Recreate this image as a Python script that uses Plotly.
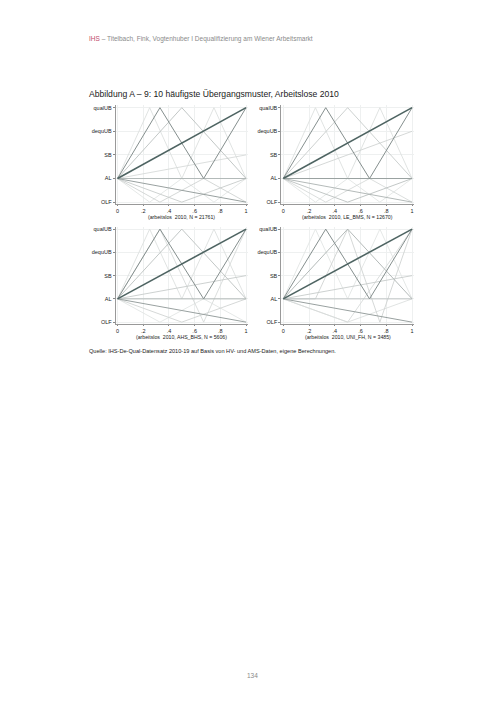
import plotly.graph_objects as go

# ---------------- data ----------------
state_labels = ["OLF", "AL", "SB", "dequUB", "qualUB"]
x_tick_vals = [0, 0.2, 0.4, 0.6, 0.8, 1]
x_tick_text = ["0", ".2", ".4", ".6", ".8", "1"]

panel_titles = [
    "(arbeitslos  2010, N = 21761)",
    "(arbeitslos  2010, LE_BMS, N = 12670)",
    "(arbeitslos  2010, AHS_BHS, N = 5606)",
    "(arbeitslos  2010, UNI_FH, N = 3485)",
]

# each pattern: (sequence of states, relative time positions, estimated share %)
p1_states = [["AL", "qualUB"], ["AL", "qualUB", "AL", "qualUB"], ["AL", "OLF"], ["AL", "AL"],
             ["AL", "qualUB", "AL"], ["AL", "OLF", "AL"], ["AL", "OLF", "AL", "OLF"], ["AL", "SB"],
             ["AL", "qualUB", "AL", "qualUB", "AL"], ["AL", "OLF", "AL", "OLF", "AL"]]
p1_times = [[0, 1], [0, 0.33, 0.67, 1], [0, 1], [0, 1], [0, 0.5, 1], [0, 0.5, 1], [0, 0.33, 0.67, 1],
            [0, 1], [0, 0.25, 0.5, 0.75, 1], [0, 0.25, 0.5, 0.75, 1]]
p1_share = [30, 9, 8, 7, 5, 4, 3, 2.5, 2, 1.5]

p2_states = [["AL", "qualUB"], ["AL", "qualUB", "AL", "qualUB"], ["AL", "AL"], ["AL", "OLF"],
             ["AL", "OLF", "AL"], ["AL", "qualUB", "AL"], ["AL", "dequUB"], ["AL", "OLF", "AL", "OLF"],
             ["AL", "qualUB", "AL", "qualUB", "AL"], ["AL", "OLF", "AL", "OLF", "AL"]]
p2_times = [[0, 1], [0, 0.33, 0.67, 1], [0, 1], [0, 1], [0, 0.5, 1], [0, 0.5, 1], [0, 1],
            [0, 0.33, 0.67, 1], [0, 0.25, 0.5, 0.75, 1], [0, 0.25, 0.5, 0.75, 1]]
p2_share = [28, 9, 8, 7, 5, 4, 3, 2.5, 2, 1.5]

p3_states = [["AL", "qualUB"], ["AL", "qualUB", "AL", "qualUB"], ["AL", "OLF"], ["AL", "AL"],
             ["AL", "qualUB", "AL"], ["AL", "SB"], ["AL", "OLF", "AL"], ["AL", "qualUB", "OLF", "qualUB"],
             ["AL", "qualUB", "AL", "qualUB", "AL"], ["AL", "OLF", "AL", "OLF"]]
p3_times = [[0, 1], [0, 0.33, 0.67, 1], [0, 1], [0, 1], [0, 0.5, 1], [0, 1], [0, 0.5, 1],
            [0, 0.33, 0.67, 1], [0, 0.25, 0.5, 0.75, 1], [0, 0.33, 0.67, 1]]
p3_share = [32, 9, 8, 6, 5, 4, 3, 2.5, 2, 1.5]

p4_states = [["AL", "qualUB"], ["AL", "qualUB", "AL", "qualUB"], ["AL", "OLF"], ["AL", "qualUB", "AL"],
             ["AL", "AL"], ["AL", "SB"], ["AL", "AL", "qualUB", "OLF", "qualUB"], ["AL", "OLF", "qualUB"],
             ["AL", "OLF", "AL"], ["AL", "qualUB", "AL", "qualUB", "AL"]]
p4_times = [[0, 1], [0, 0.33, 0.67, 1], [0, 1], [0, 0.5, 1], [0, 1], [0, 1], [0, 0.25, 0.5, 0.75, 1],
            [0, 0.5, 1], [0, 0.5, 1], [0, 0.25, 0.5, 0.75, 1]]
p4_share = [35, 8, 6, 5, 4, 3.5, 3, 2.5, 2, 1.5]

panels = [(p1_states, p1_times, p1_share), (p2_states, p2_times, p2_share),
          (p3_states, p3_times, p3_share), (p4_states, p4_times, p4_share)]

# ---------------- styling ----------------
W, H = 504, 713
shade_colors = ["#4e6462", "#858f8e", "#99a1a0", "#abb2b1", "#bbc1c0",
                "#c7cccb", "#d0d4d3", "#d7dad9", "#dde0df", "#e2e5e4"]
shade_widths = [1.6, 1.0, 1.0, 0.9, 0.9, 0.9, 0.9, 0.9, 0.9, 0.9]

# pixel boxes of the four plot regions: (left, right, top, bottom)
boxes = [(115.6, 248.0, 104.6, 203.6), (281.3, 414.0, 104.6, 203.6),
         (115.6, 248.0, 226.4, 323.9), (281.3, 414.0, 226.4, 323.9)]

fig = go.Figure()
ymap = {s: i + 1 for i, s in enumerate(state_labels)}
font_name = "Liberation Sans, Arial, sans-serif"

for k, (states, times, share) in enumerate(panels):
    order = sorted(range(len(share)), key=lambda i: share[i])  # light first, dark on top
    rank = {i: r for r, i in enumerate(sorted(range(len(share)), key=lambda i: -share[i]))}
    suffix = "" if k == 0 else str(k + 1)
    for i in order:
        fig.add_trace(go.Scatter(
            x=times[i], y=[ymap[s] for s in states[i]], mode="lines",
            line=dict(color=shade_colors[rank[i]], width=shade_widths[rank[i]]),
            xaxis="x" + suffix, yaxis="y" + suffix, showlegend=False, hoverinfo="skip"))
    l, r, t, b = boxes[k]
    fig.layout["xaxis" + suffix] = dict(
        domain=[l / W, r / W], range=[-0.015, 1.015], anchor="y" + suffix,
        tickvals=x_tick_vals, ticktext=x_tick_text, ticks="outside", ticklen=1.5,
        tickcolor="#888", tickfont=dict(size=5.5, color="#222", family=font_name),
        showline=True, linecolor="#999", linewidth=0.8,
        showgrid=True, gridcolor="#eef0f0", gridwidth=0.6, zeroline=False)
    fig.layout["yaxis" + suffix] = dict(
        domain=[1 - b / H, 1 - t / H], range=[0.92, 5.1], anchor="x" + suffix,
        tickvals=list(range(1, 6)), ticktext=state_labels, ticks="outside", ticklen=2,
        tickcolor="#888", tickfont=dict(size=5.5, color="#222", family=font_name),
        showline=True, linecolor="#999", linewidth=0.8,
        showgrid=True, gridcolor="#eef0f0", gridwidth=0.6, zeroline=False)
    fig.add_annotation(x=(l + r) / 2 / W, y=1 - (b + 13) / H, xref="paper", yref="paper",
                       text=panel_titles[k], showarrow=False, xanchor="center", yanchor="middle",
                       font=dict(size=5.2, color="#222", family=font_name))

fig.add_annotation(x=87 / W, y=1 - 38 / H, xref="paper", yref="paper", xanchor="left", yanchor="middle",
                   showarrow=False,
                   text='<span style="color:#c04a6a">IHS</span> – Titelbach, Fink, Vogtenhuber I Dequalifizierung am Wiener Arbeitsmarkt',
                   font=dict(size=6.5, color="#8a8a8a", family=font_name))
fig.add_annotation(x=87 / W, y=1 - 93 / H, xref="paper", yref="paper", xanchor="left", yanchor="middle",
                   showarrow=False,
                   text="Abbildung A – 9: 10 häufigste Übergangsmuster, Arbeitslose 2010",
                   font=dict(size=8.6, color="#1a1a1a", family=font_name))
fig.add_annotation(x=87 / W, y=1 - 351 / H, xref="paper", yref="paper", xanchor="left", yanchor="middle",
                   showarrow=False,
                   text="Quelle: IHS-De-Qual-Datensatz 2010-19 auf Basis von HV- und AMS-Daten, eigene Berechnungen.",
                   font=dict(size=5.6, color="#222", family=font_name))
fig.add_annotation(x=252 / W, y=1 - 676 / H, xref="paper", yref="paper", xanchor="center", yanchor="middle",
                   showarrow=False, text="134", font=dict(size=6.5, color="#8a8a8a", family=font_name))

fig.update_layout(width=W, height=H, margin=dict(l=0, r=0, t=0, b=0),
                  paper_bgcolor="white", plot_bgcolor="white", font=dict(family=font_name))
fig.write_html("out.html", config={"displayModeBar": False},
               post_script="document.body.style.margin='0';document.body.style.padding='0';")
